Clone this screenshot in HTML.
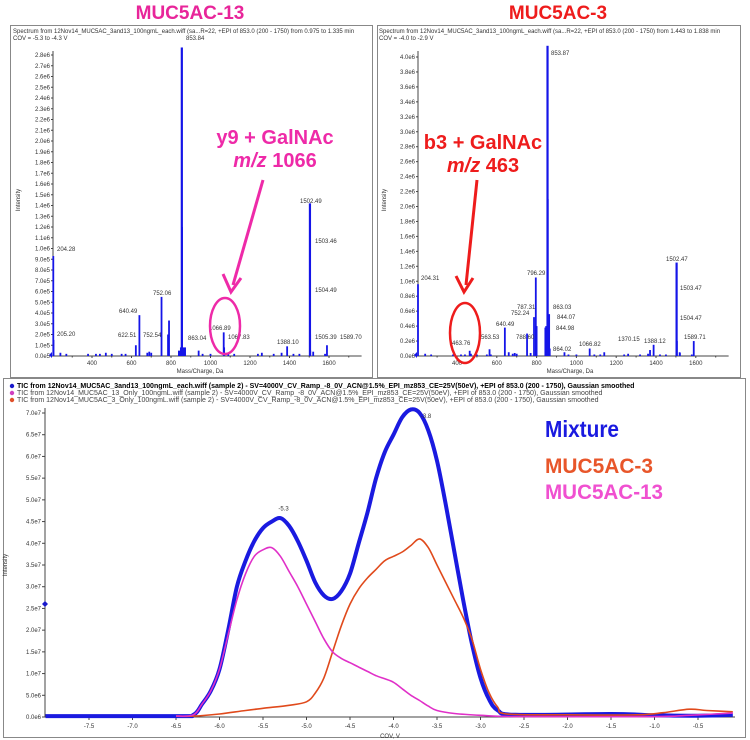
<!DOCTYPE html>
<html><head><meta charset="utf-8"><style>
html,body{margin:0;padding:0;background:#fff;}
svg{display:block;font-family:"Liberation Sans",sans-serif;}
.t{font-size:6px;fill:#333}
</style></head><body>
<svg id="s" width="750" height="740" viewBox="0 0 750 740" xmlns="http://www.w3.org/2000/svg">
<rect width="750" height="740" fill="#fff"/>
<text x="190" y="19" text-anchor="middle" font-size="19" font-weight="bold" fill="#e8259a">MUC5AC-13</text>
<text x="558" y="19" text-anchor="middle" font-size="19" font-weight="bold" fill="#ee1c1c">MUC5AC-3</text>
<rect x="10.5" y="25.5" width="362" height="352" fill="none" stroke="#888"/>
<rect x="377.5" y="25.5" width="363" height="352" fill="none" stroke="#888"/>
<rect x="3.5" y="378.5" width="742" height="359" fill="none" stroke="#888"/>
<text class="t" x="13" y="33">Spectrum from 12Nov14_MUC5AC_3and13_100ngmL_each.wiff (sa...R=22, +EPI of 853.0 (200 - 1750) from 0.975 to 1.335 min</text>
<text class="t" x="13" y="40">COV = -5.3 to -4.3 V</text>
<text class="t" x="379" y="33">Spectrum from 12Nov14_MUC5AC_3and13_100ngmL_each.wiff (sa...R=22, +EPI of 853.0 (200 - 1750) from 1.443 to 1.838 min</text>
<text class="t" x="379" y="40">COV = -4.0 to -2.9 V</text>
<text class="t" x="200" y="373" text-anchor="middle">Mass/Charge, Da</text>
<text class="t" x="570" y="373" text-anchor="middle">Mass/Charge, Da</text>
<text class="t" transform="translate(20,200) rotate(-90)" text-anchor="middle">Intensity</text>
<text class="t" transform="translate(386,200) rotate(-90)" text-anchor="middle">Intensity</text>
<text style="font-size:7px;fill:#000;font-weight:bold" x="17" y="388">TIC from 12Nov14_MUC5AC_3and13_100ngmL_each.wiff (sample 2) - SV=4000V_CV_Ramp_-8_0V_ACN@1.5%_EPI_mz853_CE=25V(50eV), +EPI of 853.0 (200 - 1750), Gaussian smoothed</text>
<circle cx="12" cy="386" r="2.2" fill="#1a1acc"/>
<text style="font-size:7px;fill:#444" x="17" y="395">TIC from 12Nov14_MUC5AC_13_Only_100ngmL.wiff (sample 2) - SV=4000V_CV_Ramp_-8_0V_ACN@1.5%_EPI_mz853_CE=25V(50eV), +EPI of 853.0 (200 - 1750), Gaussian smoothed</text>
<circle cx="12" cy="393" r="2.2" fill="#d040c0"/>
<text style="font-size:7px;fill:#444" x="17" y="402">TIC from 12Nov14_MUC5AC_3_Only_100ngmL.wiff (sample 2) - SV=4000V_CV_Ramp_-8_0V_ACN@1.5%_EPI_mz853_CE=25V(50eV), +EPI of 853.0 (200 - 1750), Gaussian smoothed</text>
<circle cx="12" cy="400" r="2.2" fill="#e0502a"/>
<g id="g"></g>
<!-- annotations -->
<text x="275" y="144" text-anchor="middle" font-size="20" font-weight="bold" fill="#ee2aa8">y9 + GalNAc</text>
<text x="275" y="167" text-anchor="middle" font-size="20" font-weight="bold" fill="#ee2aa8"><tspan font-style="italic">m/z</tspan> 1066</text>
<line x1="263" y1="180" x2="233" y2="285" stroke="#ee2aa8" stroke-width="3"/>
<polyline points="223,274 231,292 241,278" fill="none" stroke="#ee2aa8" stroke-width="3"/>
<ellipse cx="225" cy="326" rx="15" ry="28" fill="none" stroke="#ee2aa8" stroke-width="2.5"/>
<text x="483" y="149" text-anchor="middle" font-size="20" font-weight="bold" fill="#ee1c1c">b3 + GalNAc</text>
<text x="483" y="172" text-anchor="middle" font-size="20" font-weight="bold" fill="#ee1c1c"><tspan font-style="italic">m/z</tspan> 463</text>
<line x1="477" y1="180" x2="466" y2="285" stroke="#ee1c1c" stroke-width="3"/>
<polyline points="456,276 464,292 473,278" fill="none" stroke="#ee1c1c" stroke-width="3"/>
<ellipse cx="465" cy="333" rx="15" ry="30" fill="none" stroke="#ee1c1c" stroke-width="2.5"/>
<text x="545" y="437" font-size="23" font-weight="bold" fill="#1a1ae0" textLength="74" lengthAdjust="spacingAndGlyphs">Mixture</text>
<text x="545" y="473" font-size="21" font-weight="bold" fill="#e8562a" textLength="108" lengthAdjust="spacingAndGlyphs">MUC5AC-3</text>
<text x="545" y="499" font-size="21" font-weight="bold" fill="#f050d0" textLength="118" lengthAdjust="spacingAndGlyphs">MUC5AC-13</text>
</svg>
<script>
var g=document.getElementById('g'),NS='http://www.w3.org/2000/svg',h='';
function T(x,y,s,a){h+='<text class="t" x="'+x+'" y="'+y+'"'+(a?' text-anchor="'+a+'"':'')+'>'+s+'</text>';}
function L(x1,y1,x2,y2,c,w){h+='<line x1="'+x1+'" y1="'+y1+'" x2="'+x2+'" y2="'+y2+'" stroke="'+c+'" stroke-width="'+(w||1)+'"/>';}
// spectrum panels
function spec(ax,x400,px100,y0,ytop,vtop,step,nt,peaks,labels,ticklbl){
  var X=function(m){return x400+(m-400)*px100/100;};
  var Y=function(v){return y0-(v/vtop)*(y0-ytop);};
  L(ax,y0-305,ax,y0,'#444');L(ax,y0,X(1765),y0,'#444');
  for(var i=0;i<=nt;i++){var v=i*step,y=Y(v);L(ax-2,y,ax,y,'#444');T(ax-3,y+2,ticklbl(v),'end');}
  for(var m=400;m<=1600;m+=200){L(X(m),y0,X(m),y0+2,'#444');T(X(m),y0+9,m,'middle');}
  for(var m=300;m<=1700;m+=200){L(X(m),y0,X(m),y0+1.5,'#444');}
  peaks.forEach(function(p){var x=X(p[0]);h+='<rect x="'+(x-0.9)+'" y="'+Y(p[1])+'" width="'+(p[2]||1.8)+'" height="'+(y0-Y(p[1]))+'" fill="#1515e8"/>';});
  labels.forEach(function(l){T(l[0],l[1],l[2]);});
}
var noise=[[240,0.03],[270,0.02],[380,0.02],[420,0.02],[440,0.02],[470,0.03],[500,0.02],[550,0.02],[570,0.02],[680,0.03],[690,0.04],[700,0.03],[940,0.05],[960,0.02],[1000,0.02],[1090,0.02],[1120,0.02],[1240,0.02],[1260,0.03],[1320,0.02],[1360,0.03],[1420,0.02],[1450,0.02],[1520,0.04],[1580,0.02]];
var p1=noise.concat([[204,0.93e6/1e6],[205,0.15],[622,0.1],[640,0.38],[752,0.55],[785,0.2],[790,0.33],[840,0.05,4],[850,0.08,6],[853.8,2.87,2.2],[856,1.2],[860,0.07,3],[1066.9,0.22],[1069,0.08],[1388,0.09],[1502.5,1.42,2.2],[1504.5,0.2],[1505,0.05],[1589.7,0.1]]);
p1=p1.map(function(p){return [p[0],p[1]*1e6,p[2]];});
var f1=function(v){return (v/1e6).toFixed(1)+'e'+(v<1e6?'5':'6');};
spec(53,92,19.75,356,55,2.8e6,1e5,28,p1,[[57,251,'204.28'],[57,336,'205.20'],[119,313,'640.49'],[153,295,'752.06'],[118,337,'622.51'],[143,337,'752.54'],[186,40,'853.84'],[188,340,'863.04'],[209,330,'1066.89'],[228,339,'1067.83'],[277,344,'1388.10'],[300,203,'1502.49'],[315,243,'1503.46'],[315,292,'1504.49'],[315,339,'1505.39'],[340,339,'1589.70']],
function(v){var a=v/1e6;return a>=1?a.toFixed(1)+'e6':(a*10).toFixed(1)+'e5';});
var p2=noise.concat([[204,0.96],[463.8,0.07],[563.5,0.09],[640.5,0.38],[660,0.05],[752,0.3],[770,0.04],[787,0.52],[796,1.05],[800,0.4],[844,0.38,3],[848,0.4,3],[853.9,4.15,2.2],[856,2.1],[863,0.56],[866,0.1],[1066.8,0.1],[1140,0.05],[1370,0.08],[1388,0.15],[1502.5,1.25,2.2],[1505,0.2],[1519,0.05],[1589.7,0.2]]);
p2=p2.map(function(p){return [p[0],p[1]*1e6,p[2]];});
spec(418,457,19.9,356,57,4.0e6,2e5,20,p2,[[421,280,'204.31'],[452,345,'463.76'],[481,339,'563.53'],[496,326,'640.49'],[511,315,'752.24'],[517,309,'787.31'],[527,275,'796.29'],[516,339,'788.60'],[551,55,'853.87'],[553,309,'863.03'],[557,319,'844.07'],[556,330,'844.98'],[553,351,'864.02'],[579,346,'1066.82'],[618,341,'1370.15'],[644,343,'1388.12'],[666,261,'1502.47'],[680,290,'1503.47'],[680,320,'1504.47'],[684,339,'1589.71']],
function(v){return (v/1e6).toFixed(1)+'e6';});
// bottom chart
var BX=function(c){return 89+(c+7.5)*87;},BY=function(v){return 717-v/7*304;};
L(45,408,45,717,'#444');L(45,717,735,717,'#444');
for(var i=0;i<=14;i++){var v=i*0.5,y=BY(v);L(42,y,45,y,'#444');T(41,y+2,(v<1?(v*10).toFixed(1)+'e6':v.toFixed(1)+'e7'),'end');}
for(var c=-7.5;c<=-0.4;c+=0.5){L(BX(c),717,BX(c),720,'#444');T(BX(c),728,c.toFixed(1),'middle');}
T(390,738,'COV, V','middle');
h+='<text class="t" transform="translate(7,565) rotate(-90)" text-anchor="middle">Intensity</text>';
function curve(pts,col,w){var d='';var pp=pts.map(function(p){return [BX(p[0]),BY(p[1])];});
  d='M'+pp[0][0].toFixed(1)+','+pp[0][1].toFixed(1);
  for(var i=1;i<pp.length;i++){var p0=pp[Math.max(i-2,0)],p1=pp[i-1],p2=pp[i],p3=pp[Math.min(i+1,pp.length-1)];
    d+=' C'+(p1[0]+(p2[0]-p0[0])/6).toFixed(1)+','+(p1[1]+(p2[1]-p0[1])/6).toFixed(1)+' '+(p2[0]-(p3[0]-p1[0])/6).toFixed(1)+','+(p2[1]-(p3[1]-p1[1])/6).toFixed(1)+' '+p2[0].toFixed(1)+','+p2[1].toFixed(1);}
  h+='<path d="'+d+'" fill="none" stroke="'+col+'" stroke-width="'+w+'" stroke-linejoin="round"/>';}
curve([[-8,0.02],[-6.5,0.02],[-6.3,0.05],[-6.2,0.3],[-6.1,0.6],[-6.0,1.1],[-5.9,2.0],[-5.8,3.0],[-5.7,3.6],[-5.6,4.05],[-5.5,4.35],[-5.4,4.5],[-5.3,4.58],[-5.2,4.4],[-5.1,4.05],[-5.0,3.6],[-4.9,3.1],[-4.8,2.8],[-4.7,2.72],[-4.6,2.9],[-4.5,3.3],[-4.4,4.0],[-4.3,4.7],[-4.2,5.5],[-4.1,6.1],[-4.0,6.5],[-3.9,6.9],[-3.8,7.08],[-3.7,7.0],[-3.6,6.6],[-3.5,5.9],[-3.4,4.9],[-3.3,3.8],[-3.2,2.7],[-3.1,1.7],[-3.0,0.9],[-2.9,0.4],[-2.8,0.15],[-2.6,0.05],[-1.5,0.07],[-1.0,0.04],[-0.5,0.03],[-0.1,0.05]],'#1a1ae0',4);
curve([[-6.5,0.02],[-6.3,0.02],[-6.0,0.07],[-5.7,0.15],[-5.5,0.2],[-5.2,0.27],[-5.0,0.35],[-4.9,0.55],[-4.8,0.9],[-4.7,1.5],[-4.6,2.1],[-4.5,2.6],[-4.4,2.95],[-4.3,3.2],[-4.2,3.4],[-4.1,3.6],[-4.0,3.7],[-3.9,3.8],[-3.8,3.95],[-3.7,4.1],[-3.6,3.9],[-3.5,3.5],[-3.4,3.1],[-3.3,2.7],[-3.2,2.3],[-3.1,1.8],[-3.0,1.1],[-2.9,0.55],[-2.8,0.22],[-2.7,0.07],[-2.0,0.05],[-1.2,0.05],[-0.9,0.1],[-0.6,0.18],[-0.4,0.15],[-0.1,0.12]],'#e04a1c',1.6);
curve([[-6.5,0.02],[-6.3,0.05],[-6.2,0.3],[-6.1,0.6],[-6.0,1.1],[-5.9,1.9],[-5.8,2.7],[-5.7,3.3],[-5.6,3.7],[-5.5,3.85],[-5.4,3.9],[-5.3,3.7],[-5.2,3.35],[-5.1,3.0],[-5.0,2.6],[-4.9,2.2],[-4.8,1.8],[-4.7,1.5],[-4.6,1.35],[-4.5,1.25],[-4.4,1.15],[-4.3,1.05],[-4.2,0.95],[-4.1,0.88],[-4.0,0.8],[-3.9,0.65],[-3.8,0.5],[-3.7,0.38],[-3.6,0.25],[-3.5,0.15],[-3.3,0.08],[-3.0,0.04],[-2.6,0.01],[-1.0,0.01],[-0.6,0.04],[-0.3,0.07],[-0.1,0.09]],'#e030c8',1.6);
T(BX(-5.3)-2,BY(4.75),'-5.3');T(BX(-3.8)+10,BY(7.0)+5,'-3.8');
h+='<path d="M42,604 l3,-3 l3,3 l-3,3z" fill="#1a1acc"/>';
h+='<path d="M49,355 l3,-3 v6z M414,355 l3,-3 v6z" fill="#1515e8"/>';
g.innerHTML=h;
</script>
</body></html>
